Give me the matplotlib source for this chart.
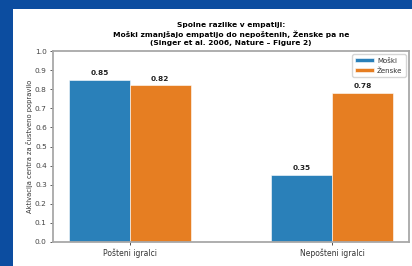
import matplotlib
matplotlib.use("Agg")
import matplotlib.pyplot as plt
import numpy as np

categories = ["Pošteni igralci", "Nepošteni igralci"]
series_names = ["Moški", "Ženske"]
moski = [0.85, 0.35]
zenske = [0.82, 0.78]
colors = ["#2a80b9", "#e67e22"]

W, H = 412, 266
fig = plt.figure(figsize=(W / 100, H / 100), dpi=100)
fig.patch.set_facecolor("#0c4da0")
bg = fig.add_axes([12.5 / W, 0, 1 - 12.5 / W, 1 - 9.3 / H])
bg.set_facecolor("white")
bg.set_xticks([])
bg.set_yticks([])
for s in bg.spines.values():
    s.set_visible(False)
bg.set_zorder(0)

ax = fig.add_axes([53 / W, (266 - 242) / H, (409 - 53) / W, (242 - 51) / H])
ax.set_zorder(1)
x = np.arange(len(categories))
w = 0.3
b1 = ax.bar(x - w / 2, moski, w, color=colors[0], edgecolor="white", linewidth=0.4, label=series_names[0])
b2 = ax.bar(x + w / 2, zenske, w, color=colors[1], edgecolor="white", linewidth=0.4, label=series_names[1])
for bars in (b1, b2):
    for r in bars:
        h = r.get_height()
        ax.text(r.get_x() + r.get_width() / 2, h + 0.02, f"{h:.2f}", ha="center", va="bottom",
                fontsize=5.3, fontweight="bold", color="#222222")

ax.set_ylim(0, 1.0)
ax.set_yticks(np.arange(0, 1.01, 0.1))
ax.set_xticks(x)
ax.set_xticklabels(categories, fontsize=5.5)
ax.tick_params(axis="y", labelsize=5.3, length=2.5, width=0.6, pad=2, colors="#444444")
ax.tick_params(axis="x", length=2.5, width=0.6, pad=2, colors="#333333")
for s in ax.spines.values():
    s.set_color("#a8a8a8")
    s.set_linewidth(1.3)
ax.set_ylabel("Aktivacija centra za čustveno popravilo", fontsize=4.9, labelpad=1.5, color="#333333")
ax.set_title("Spolne razlike v empatiji:\nMoški zmanjšajo empatijo do nepoštenih, Ženske pa ne\n(Singer et al. 2006, Nature – Figure 2)",
             fontsize=5.4, fontweight="bold", linespacing=1.45, pad=4)
leg = ax.legend(loc="upper right", fontsize=5, frameon=True, handlelength=2.6, handleheight=0.6,
                borderpad=0.45, labelspacing=0.5, handletextpad=0.5, borderaxespad=0.5,
                framealpha=0.8, edgecolor="#cccccc")
for t in leg.get_texts():
    t.set_color("#333333")

fig.savefig("out.png", dpi=100, facecolor=fig.get_facecolor())
